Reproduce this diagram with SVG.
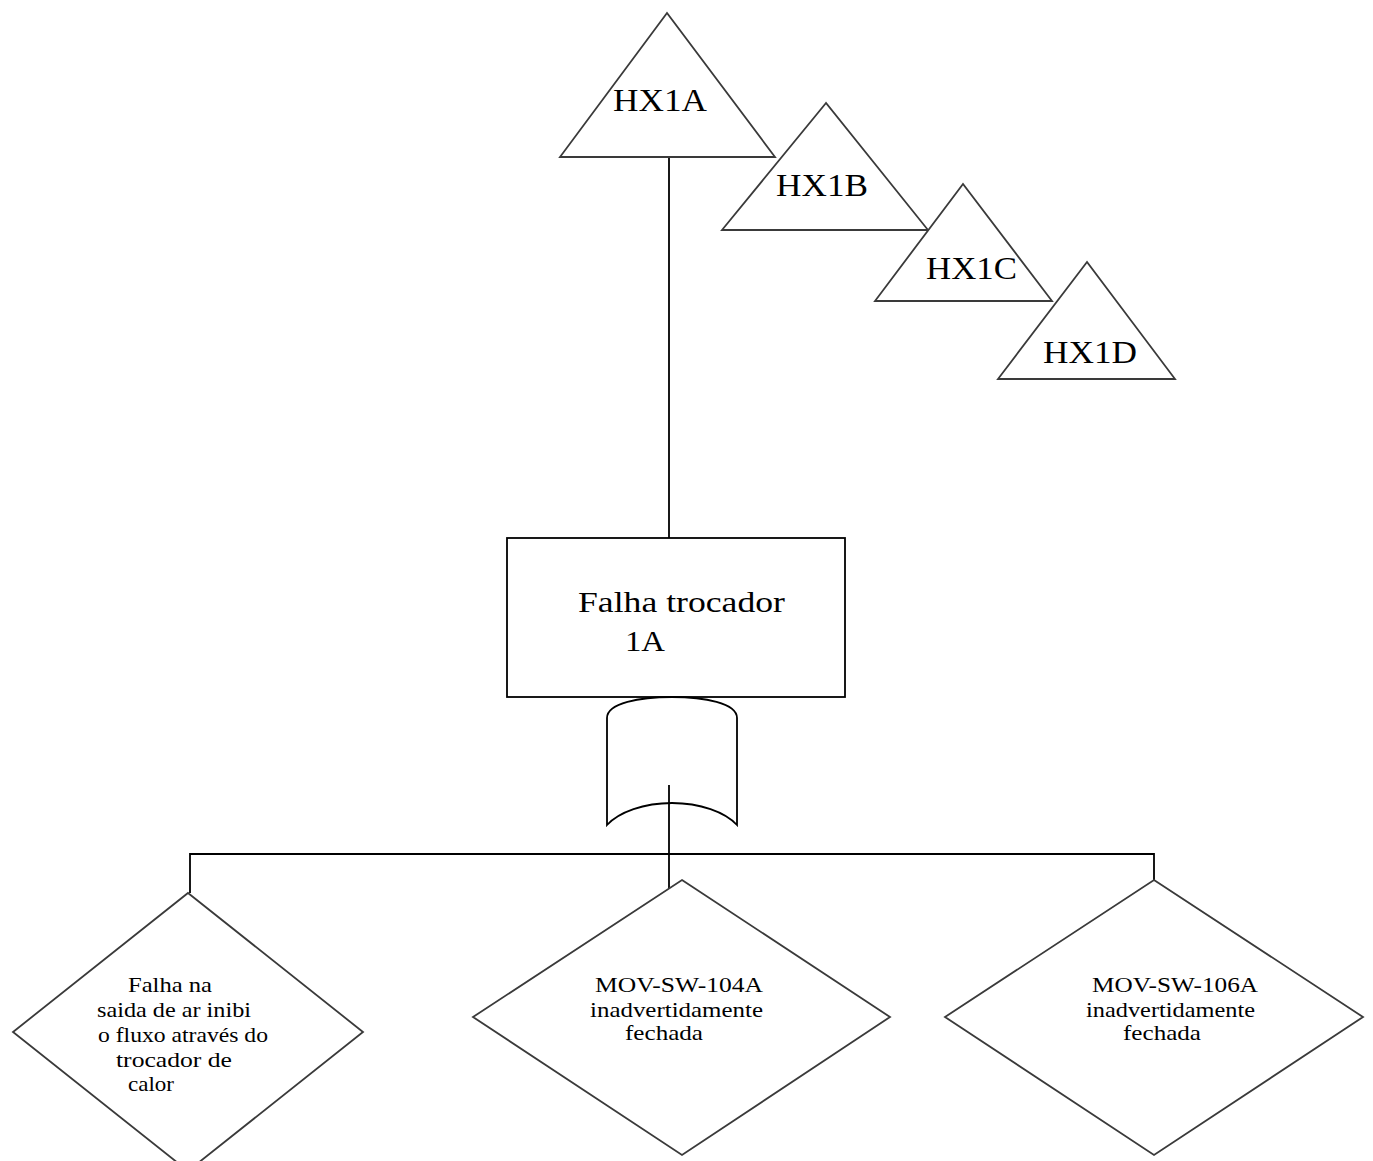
<svg xmlns="http://www.w3.org/2000/svg" width="1373" height="1161" viewBox="0 0 1373 1161">
<style>
.sh{fill:#fff;stroke:#3a3a3a;stroke-width:1.8}
.ln{fill:none;stroke:#000;stroke-width:1.8}
text{font-family:"Liberation Serif","Times New Roman",serif;fill:#000}
.big{font-size:32px}
.mid{font-size:30px}
.sm{font-size:21px}
</style>
<rect width="1373" height="1161" fill="#fff"/>
<g id="connectors">
<path class="ln" d="M669,157 L669,538"/>
<path class="ln" d="M669,785 L669,893"/>
<path class="ln" d="M190,893 L190,854 L1154,854 L1154,880"/>
</g>
<g id="HX1A">
<polygon class="sh" points="667,13 560,157 775,157"/>
<text class="big" x="613" y="111" textLength="94" lengthAdjust="spacingAndGlyphs">HX1A</text>
</g>
<g id="HX1B">
<polygon class="sh" points="826,103 722,230 928,230"/>
<text class="big" x="776" y="196" textLength="92" lengthAdjust="spacingAndGlyphs">HX1B</text>
</g>
<g id="HX1C">
<polygon class="sh" points="963,184 875,301 1052,301"/>
<text class="big" x="926" y="279" textLength="91" lengthAdjust="spacingAndGlyphs">HX1C</text>
</g>
<g id="HX1D">
<polygon class="sh" points="1087,262 998,379 1175,379"/>
<text class="big" x="1043" y="363" textLength="94" lengthAdjust="spacingAndGlyphs">HX1D</text>
</g>
<g id="top-event">
<rect class="sh" x="507" y="538" width="338" height="159" style="stroke:#000"/>
<text class="mid" x="578" y="612" textLength="207" lengthAdjust="spacingAndGlyphs">Falha trocador</text>
<text class="mid" x="625" y="651" textLength="40" lengthAdjust="spacingAndGlyphs">1A</text>
</g>
<g id="or-gate">
<path class="sh" style="fill:none;stroke:#000" d="M607,825 L607,718 C607,703 640,697 672,697 C704,697 737,703 737,718 L737,825 C725,812 700,803 672,803 C644,803 619,812 607,825 Z"/>
</g>
<g id="event-left">
<polygon class="sh" points="188,893 363,1032 188,1171 13,1032"/>
<text class="sm" x="128" y="992" textLength="84" lengthAdjust="spacingAndGlyphs">Falha na</text>
<text class="sm" x="97" y="1017" textLength="154" lengthAdjust="spacingAndGlyphs">saida de ar inibi</text>
<text class="sm" x="98" y="1042" textLength="170" lengthAdjust="spacingAndGlyphs">o fluxo através do</text>
<text class="sm" x="116" y="1067" textLength="116" lengthAdjust="spacingAndGlyphs">trocador de</text>
<text class="sm" x="128" y="1091" textLength="46" lengthAdjust="spacingAndGlyphs">calor</text>
</g>
<g id="event-mid">
<polygon class="sh" points="682,880 890,1017 682,1155 473,1017"/>
<text class="sm" x="595" y="992" textLength="168" lengthAdjust="spacingAndGlyphs">MOV-SW-104A</text>
<text class="sm" x="590" y="1017" textLength="173" lengthAdjust="spacingAndGlyphs">inadvertidamente</text>
<text class="sm" x="625" y="1040" textLength="78" lengthAdjust="spacingAndGlyphs">fechada</text>
</g>
<g id="event-right">
<polygon class="sh" points="1154,880 1363,1017 1154,1155 945,1017"/>
<text class="sm" x="1092" y="992" textLength="166" lengthAdjust="spacingAndGlyphs">MOV-SW-106A</text>
<text class="sm" x="1086" y="1017" textLength="169" lengthAdjust="spacingAndGlyphs">inadvertidamente</text>
<text class="sm" x="1123" y="1040" textLength="78" lengthAdjust="spacingAndGlyphs">fechada</text>
</g>
</svg>
